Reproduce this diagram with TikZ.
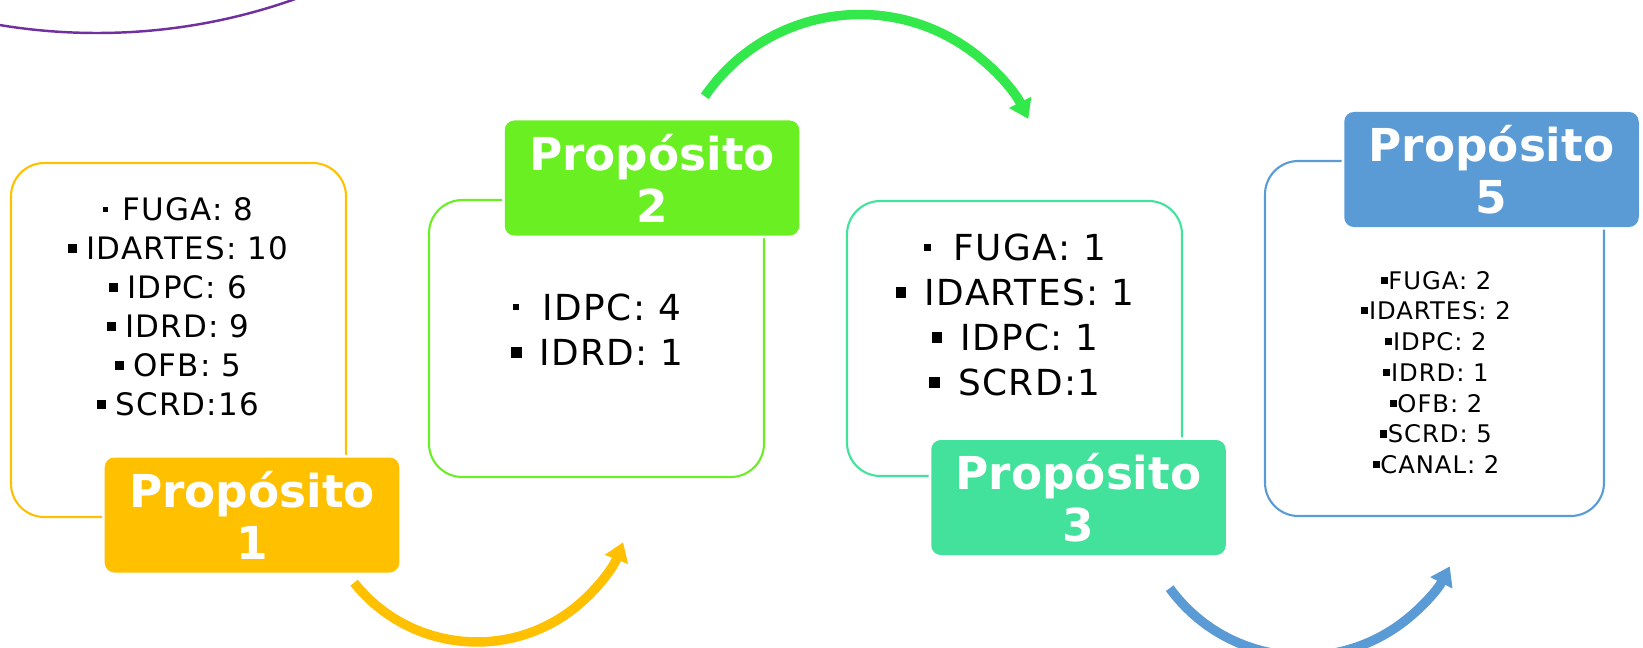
\documentclass[tikz,border=0pt]{standalone}
\usepackage{fontspec}
\setmainfont{DejaVu Sans}
\newfontfamily\listfont[LetterSpace=4]{DejaVu Sans}
\usetikzlibrary{arrows.meta}
\definecolor{gold}{HTML}{FFC000}
\definecolor{lime}{HTML}{6AEF23}
\definecolor{grass}{HTML}{32E84B}
\definecolor{mint}{HTML}{42E19C}
\definecolor{sky}{HTML}{5B9BD5}
\definecolor{plum}{HTML}{7030A0}
% square bullet: size, gap
\newcommand\bul[2]{\rule[\dimexpr0.365em-#1/2\relax]{#1}{#1}\hspace{#2}}

\begin{document}
\begin{tikzpicture}[x=0.2mm, y=0.2mm,
    box/.style={draw=#1, line width=1.2pt, rounded corners=19pt, inner sep=0pt},
    tag/.style={fill=#1, rounded corners=5.5pt, text=white, align=center,
      font=\bfseries\fontsize{25.8}{29.6}\selectfont, inner sep=0pt,
      minimum width=58.9mm, minimum height=23mm,
      preaction={draw=white, line width=3pt}},
    items/.style={align=center, inner sep=0pt},
    arcarrow/.style={draw=#1, line width=5.4pt, -{Triangle[length=10.5pt,width=13.5pt]}}]
  \useasboundingbox (0,0) rectangle (1643,647);
  \clip (0,0) rectangle (1643,647);

  \draw[plum, line width=1.4pt] (97,1206) circle[radius=592];

  % outline boxes
  \node[box=gold, minimum width=67mm, minimum height=70.8mm] (b1) at (178.5,307) {};
  \node[box=lime, minimum width=67mm, minimum height=55.4mm] (b2) at (596.5,308.5) {};
  \node[box=mint, minimum width=67mm, minimum height=55mm] (b3) at (1014.5,308.5) {};
  \node[box=sky, minimum width=67.8mm, minimum height=71mm] (b5) at (1434.5,308.5) {};

  % lists
  \node[items, font=\listfont\fontsize{17.6}{22.2}\selectfont] (t1) at (178,340)
    {\bul{0.17em}{0.46em}FUGA: 8\\ \bul{0.3em}{0.3em}IDARTES: 10\\
     \bul{0.3em}{0.3em}IDPC: 6\\ \bul{0.3em}{0.3em}IDRD: 9\\
     \bul{0.3em}{0.3em}OFB: 5\\ \bul{0.3em}{0.3em}SCRD:16};
  \node[items, font=\listfont\fontsize{20.4}{25.6}\selectfont] (t2) at (597,317.5)
    {\bul{0.17em}{0.65em}IDPC: 4\\ \bul{0.31em}{0.48em}IDRD: 1};
  \node[items, font=\listfont\fontsize{20.4}{25.6}\selectfont] (t3) at (1015,332)
    {\bul{0.2em}{0.63em}FUGA: 1\\ \bul{0.29em}{0.51em}IDARTES: 1\\
     \bul{0.29em}{0.51em}IDPC: 1\\ \bul{0.29em}{0.51em}SCRD:1};
  \node[items, font=\listfont\fontsize{13.8}{17.5}\selectfont] (t5) at (1436,274.5)
    {\bul{0.29em}{0.03em}FUGA: 2\\ \bul{0.29em}{0.03em}IDARTES: 2\\
     \bul{0.29em}{0.03em}IDPC: 2\\ \bul{0.29em}{0.03em}IDRD: 1\\
     \bul{0.29em}{0.03em}OFB: 2\\ \bul{0.29em}{0.03em}SCRD: 5\\
     \bul{0.29em}{0.03em}CANAL: 2};

  % title tags
  \node[tag=gold] (p1) at (252,132) {Propósito\\1};
  \node[tag=lime] (p2) at (652,469) {Propósito\\2};
  \node[tag=mint] (p3) at (1078.5,149.5) {Propósito\\3};
  \node[tag=sky] (p5) at (1491.5,477.5) {Propósito\\5};

  % curved arrows
  \coordinate (a1) at (354.1,64.3);
  \coordinate (a2) at (704.8,550.7);
  \coordinate (a3) at (1169.7,58.8);
  \draw[arcarrow=gold] (a1) arc[start angle=218.5, end angle=338.6, radius=157];
  \draw[arcarrow=grass] (a2) arc[start angle=145.6, end angle=26.4, radius=188];
  \draw[arcarrow=sky] (a3) arc[start angle=216.1, end angle=332.8, radius=165];
\end{tikzpicture}
\end{document}
